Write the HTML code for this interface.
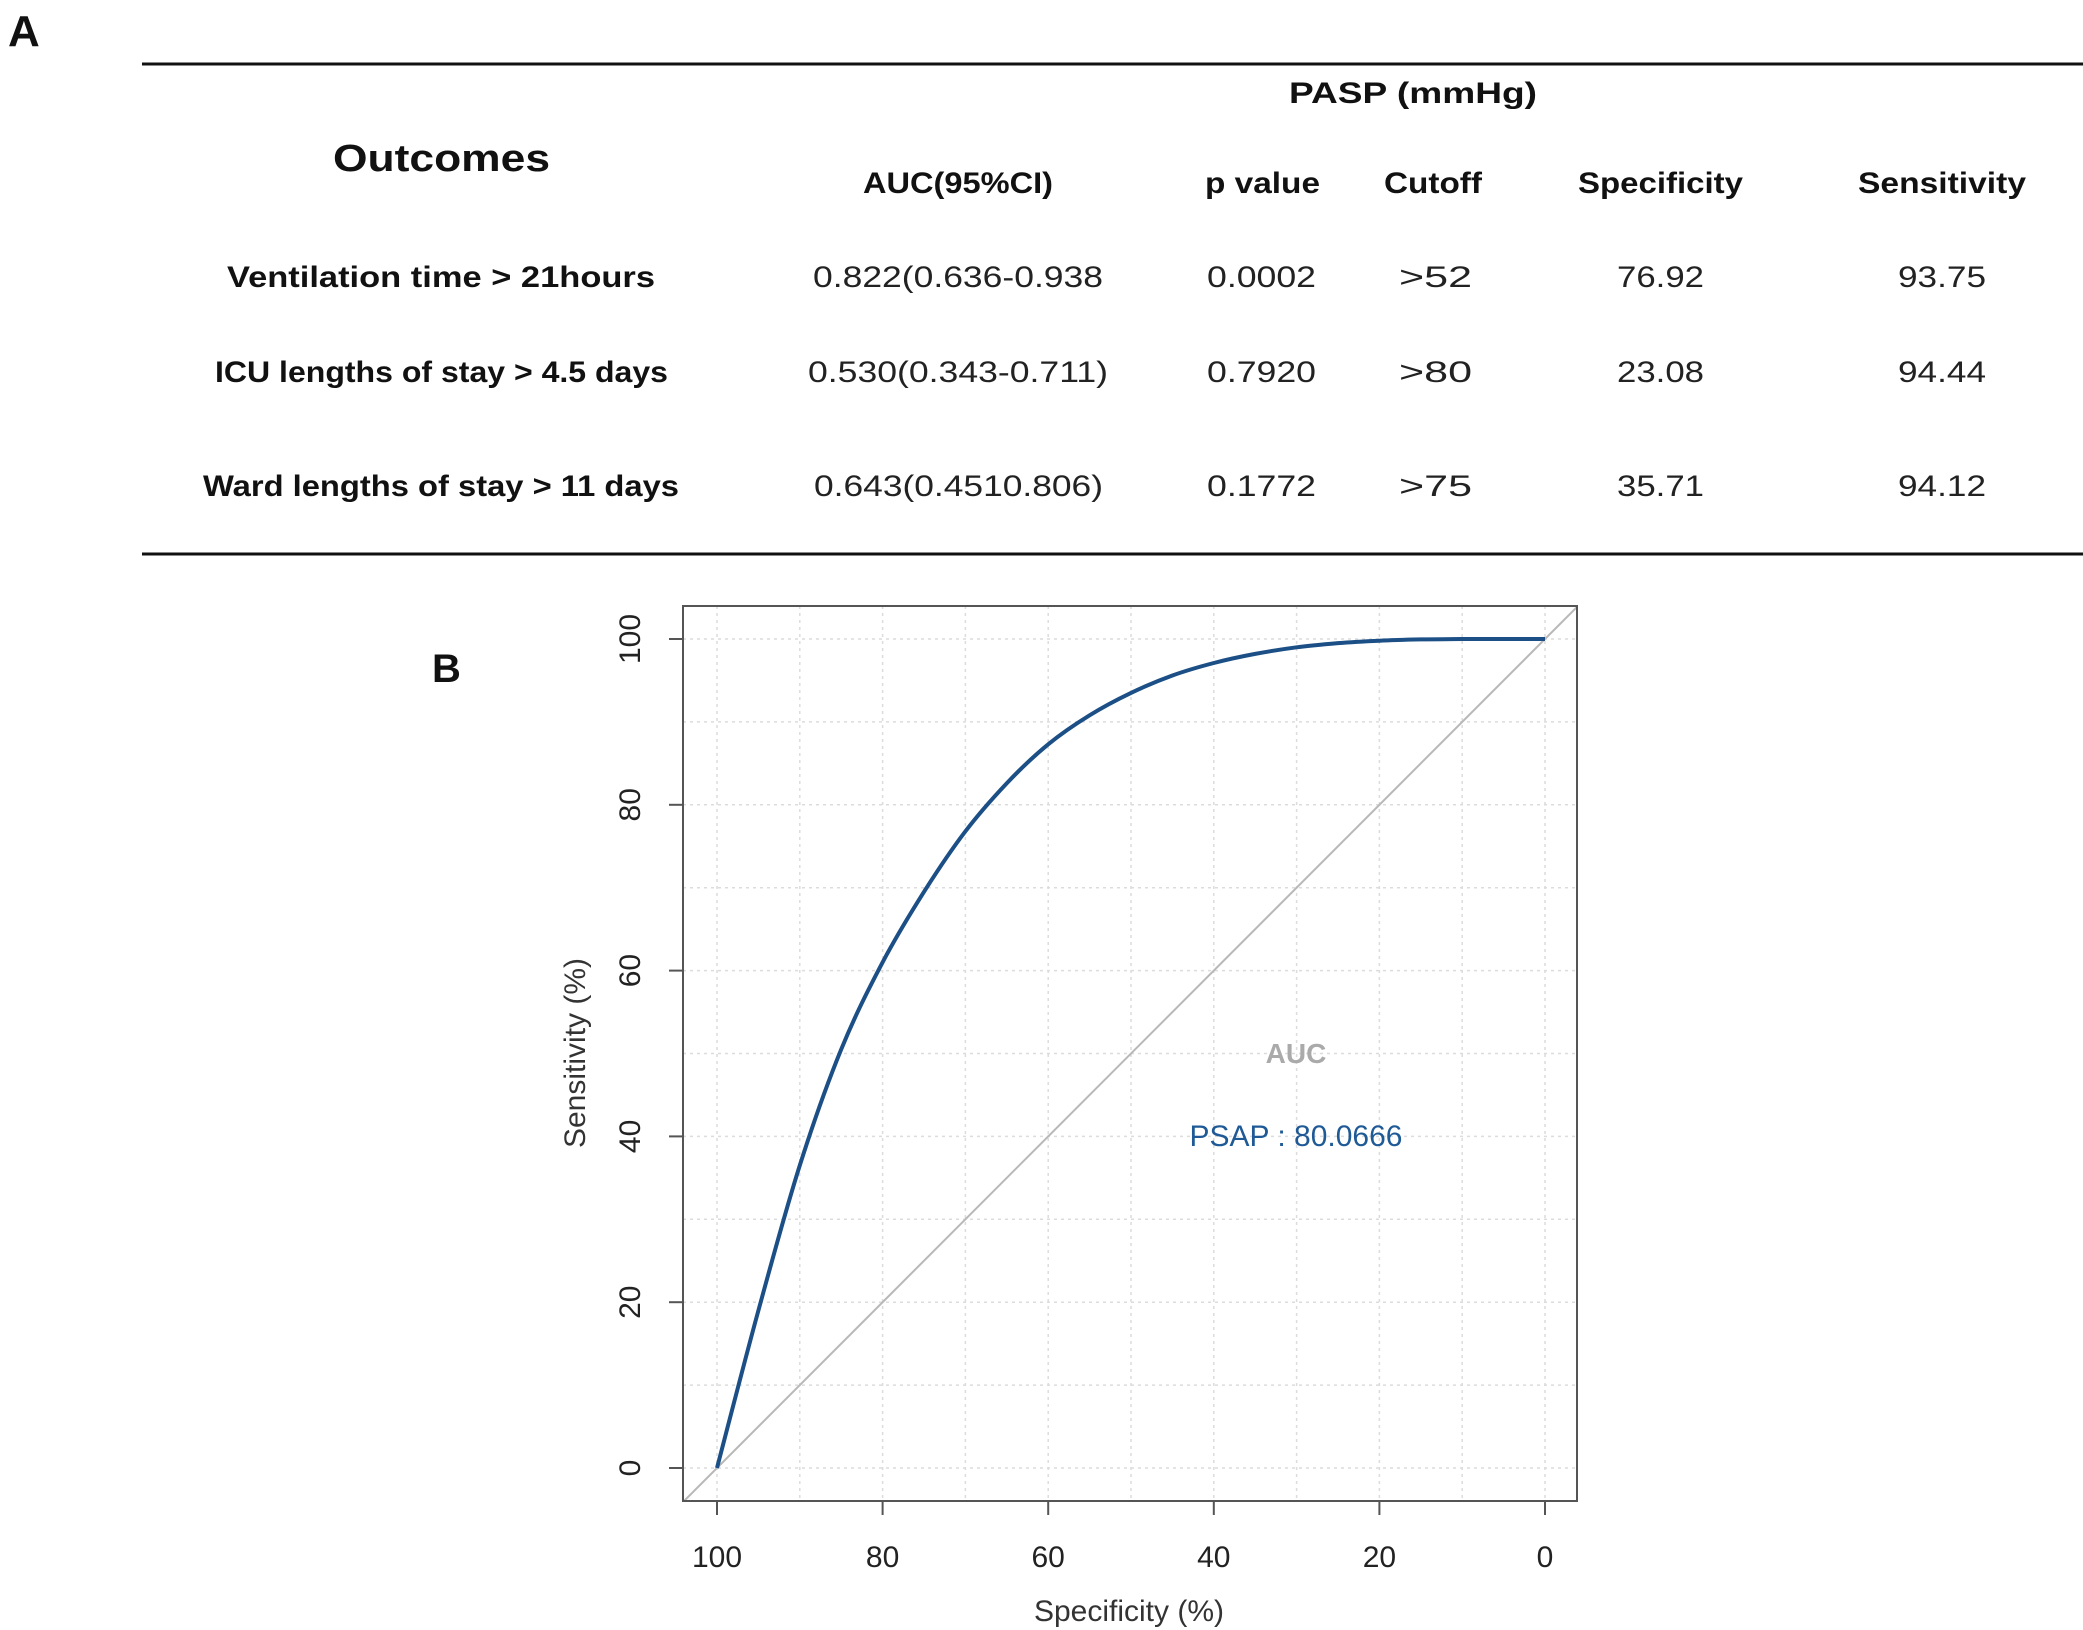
<!DOCTYPE html>
<html><head><meta charset="utf-8">
<style>
html,body{margin:0;padding:0;background:#fff;}
svg{display:block;}
.t{font-family:"Liberation Sans",sans-serif;}
</style></head>
<body>
<svg id="fig" width="2083" height="1630" viewBox="0 0 2083 1630" xmlns="http://www.w3.org/2000/svg">
<rect x="0" y="0" width="2083" height="1630" fill="#fff"/>
<text class="t" x="8" y="46" font-size="44" font-weight="bold" fill="#111">A</text>
<g id="table">
<line x1="142" y1="64" x2="2083" y2="64" stroke="#111" stroke-width="3"/>
<line x1="142" y1="554" x2="2083" y2="554" stroke="#111" stroke-width="3"/>
<g class="t" font-weight="bold" fill="#111" font-size="30">
<text x="1289" y="103" textLength="248" lengthAdjust="spacingAndGlyphs">PASP (mmHg)</text>
<text x="333" y="171" font-size="38" textLength="217" lengthAdjust="spacingAndGlyphs">Outcomes</text>
<text x="863" y="193" textLength="190" lengthAdjust="spacingAndGlyphs">AUC(95%CI)</text>
<text x="1205" y="193" textLength="115" lengthAdjust="spacingAndGlyphs">p value</text>
<text x="1384" y="193" textLength="98" lengthAdjust="spacingAndGlyphs">Cutoff</text>
<text x="1578" y="193" textLength="165" lengthAdjust="spacingAndGlyphs">Specificity</text>
<text x="1858" y="193" textLength="168" lengthAdjust="spacingAndGlyphs">Sensitivity</text>
<text x="227" y="287" textLength="428" lengthAdjust="spacingAndGlyphs">Ventilation time &gt; 21hours</text>
<text x="215" y="382" textLength="453" lengthAdjust="spacingAndGlyphs">ICU lengths of stay &gt; 4.5 days</text>
<text x="203" y="496" textLength="476" lengthAdjust="spacingAndGlyphs">Ward lengths of stay &gt; 11 days</text>
</g>
<g class="t" fill="#222" font-size="30">
<text x="813" y="287" textLength="290" lengthAdjust="spacingAndGlyphs">0.822(0.636-0.938</text>
<text x="1207" y="287" textLength="109" lengthAdjust="spacingAndGlyphs">0.0002</text>
<text x="1399" y="287" textLength="73" lengthAdjust="spacingAndGlyphs">&gt;52</text>
<text x="1617" y="287" textLength="87" lengthAdjust="spacingAndGlyphs">76.92</text>
<text x="1898" y="287" textLength="88" lengthAdjust="spacingAndGlyphs">93.75</text>
<text x="808" y="382" textLength="300" lengthAdjust="spacingAndGlyphs">0.530(0.343-0.711)</text>
<text x="1207" y="382" textLength="109" lengthAdjust="spacingAndGlyphs">0.7920</text>
<text x="1399" y="382" textLength="73" lengthAdjust="spacingAndGlyphs">&gt;80</text>
<text x="1617" y="382" textLength="87" lengthAdjust="spacingAndGlyphs">23.08</text>
<text x="1898" y="382" textLength="88" lengthAdjust="spacingAndGlyphs">94.44</text>
<text x="814" y="496" textLength="289" lengthAdjust="spacingAndGlyphs">0.643(0.4510.806)</text>
<text x="1207" y="496" textLength="109" lengthAdjust="spacingAndGlyphs">0.1772</text>
<text x="1399" y="496" textLength="73" lengthAdjust="spacingAndGlyphs">&gt;75</text>
<text x="1617" y="496" textLength="87" lengthAdjust="spacingAndGlyphs">35.71</text>
<text x="1898" y="496" textLength="88" lengthAdjust="spacingAndGlyphs">94.12</text>
</g>
</g>
<text class="t" x="432" y="682" font-size="40" font-weight="bold" fill="#111">B</text>
<g id="chart"></g>
</svg>
<script>
const specValues = [100,95,90,85,80,75,70,65,60,55,50,45,40,35,30,25,20,15,10,5,0];
const sensValues = [0,19,36.5,50.5,61,69.5,76.8,82.6,87.3,90.8,93.5,95.6,97.1,98.2,99,99.5,99.8,99.95,100,100,100];
const xTicks = [100,80,60,40,20,0];
const yTicks = [0,20,40,60,80,100];
const gridVals = [0,10,20,30,40,50,60,70,80,90,100];
const aucLabel = "AUC";
const psapLabel = "PSAP : 80.0666";

const NS = "http://www.w3.org/2000/svg";
const g = document.getElementById('chart');
const box = {l:683, r:1577, t:606, b:1501};
function sx(v){ return 717 + (100 - v) * (1545 - 717) / 100; }
function sy(v){ return 1468 - v * (1468 - 639) / 100; }
function mk(tag, attrs, parent){
  const e = document.createElementNS(NS, tag);
  for (const k in attrs) e.setAttribute(k, attrs[k]);
  (parent || g).appendChild(e);
  return e;
}
gridVals.forEach(v => {
  const gl = mk('line', {x1:sx(v), x2:sx(v), y1:box.t, y2:box.b, stroke:'#dcdcdc', 'stroke-width':1.5, 'stroke-dasharray':'3,4'});
  
  
  const gh = mk('line', {x1:box.l, x2:box.r, y1:sy(v), y2:sy(v), stroke:'#dcdcdc', 'stroke-width':1.5, 'stroke-dasharray':'3,4'});
  
  
});
const clip = mk('clipPath', {id:'pc'});
mk('rect', {x:box.l, y:box.t, width:box.r-box.l, height:box.b-box.t}, clip);
const diag = mk('line', {x1:sx(110), y1:sy(-10), x2:sx(-10), y2:sy(110), stroke:'#b8b8b8', 'stroke-width':2, 'clip-path':'url(#pc)'});


const pts = specValues.map((s, i) => [sx(s), sy(sensValues[i])]);
let d = 'M' + pts[0][0].toFixed(1) + ',' + pts[0][1].toFixed(1);
for (let i = 0; i < pts.length - 1; i++) {
  const p0 = pts[Math.max(0, i - 1)], p1 = pts[i], p2 = pts[i + 1], p3 = pts[Math.min(pts.length - 1, i + 2)];
  const c1 = [p1[0] + (p2[0] - p0[0]) / 6, p1[1] + (p2[1] - p0[1]) / 6];
  const c2 = [p2[0] - (p3[0] - p1[0]) / 6, p2[1] - (p3[1] - p1[1]) / 6];
  d += 'C' + c1[0].toFixed(1) + ',' + c1[1].toFixed(1) + ' ' + c2[0].toFixed(1) + ',' + c2[1].toFixed(1) + ' ' + p2[0].toFixed(1) + ',' + p2[1].toFixed(1);
}
const curve = mk('path', {d:d, fill:'none', stroke:'#1b4f86', 'stroke-width':4, 'stroke-linejoin':'round'});


const frame = mk('rect', {x:box.l, y:box.t, width:box.r-box.l, height:box.b-box.t, fill:'none', stroke:'#555', 'stroke-width':2});


const xa = mk('line', {x1:sx(100), x2:sx(0), y1:box.b, y2:box.b, stroke:'#555', 'stroke-width':2});


xTicks.forEach(v => {
  const tk = mk('line', {x1:sx(v), x2:sx(v), y1:box.b, y2:box.b+14, stroke:'#555', 'stroke-width':2});
  
  
  const tl = mk('text', {x:sx(v), y:1567, 'text-anchor':'middle', 'font-size':30, fill:'#222', 'font-family':'Liberation Sans, sans-serif'});
  tl.textContent = v;
  
  
});
yTicks.forEach(v => {
  const tk = mk('line', {x1:box.l-14, x2:box.l, y1:sy(v), y2:sy(v), stroke:'#555', 'stroke-width':2});
  
  
  const tl = mk('text', {x:0, y:0, 'text-anchor':'middle', 'font-size':30, fill:'#222', 'font-family':'Liberation Sans, sans-serif', transform:'translate(640,'+sy(v)+') rotate(-90)'});
  tl.textContent = v;
  
  
});
const xt = mk('text', {x:1129, y:1621, 'text-anchor':'middle', 'font-size':30, fill:'#333', 'font-family':'Liberation Sans, sans-serif'});
xt.textContent = 'Specificity (%)';


const yt = mk('text', {x:0, y:0, 'text-anchor':'middle', 'font-size':30, fill:'#333', 'font-family':'Liberation Sans, sans-serif', transform:'translate(585,1053) rotate(-90)'});
yt.textContent = 'Sensitivity (%)';


const at = mk('text', {x:1296, y:1063, 'text-anchor':'middle', 'font-size':28, 'font-weight':'bold', fill:'#aaa', 'font-family':'Liberation Sans, sans-serif'});
at.textContent = aucLabel;


const pt = mk('text', {x:1296, y:1146, 'text-anchor':'middle', 'font-size':30, fill:'#1f5a96', 'font-family':'Liberation Sans, sans-serif'});
pt.textContent = psapLabel;


</script>
</body></html>
